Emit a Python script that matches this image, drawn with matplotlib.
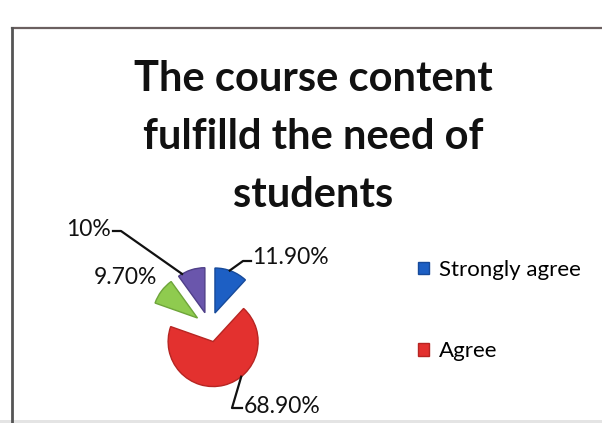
"""Exploded pie: course content survey."""

import matplotlib

matplotlib.use("Agg")
import matplotlib.pyplot as plt
import numpy as np
from matplotlib.patches import Rectangle

W, H = 602, 423

categories = ["Strongly agree", "Agree", "Neutral", "Disagree"]
shares = [11.9, 68.9, 9.7, 10.0]
value_labels = ["11.90%", "68.90%", "9.70%", "10%"]
colors = ["#1d5fc4", "#e3312f", "#8fcb4f", "#6a56ac"]
edges = ["#174a9a", "#b72522", "#6ea53a", "#4f3f88"]

plt.rcParams["font.family"] = ["Lato", "DejaVu Sans"]

fig = plt.figure(figsize=(W / 100, H / 100), dpi=100)
ax = fig.add_axes([0, 0, 1, 1])
ax.set_xlim(0, W)
ax.set_ylim(0, H)
ax.set_aspect("equal")
ax.axis("off")

# frame of the printed chart
ax.plot([12, W], [H - 28, H - 28], color="#6b6060", lw=1.6)
ax.plot([12, 12], [H - 28, 0], color="#555", lw=2)
ax.add_patch(Rectangle((0, 0), W, 3, color="#e4e4e4", lw=0))

ax.text(313, H - 137, "The course content\nfulfilld the need of\nstudents",
        ha="center", va="center", fontsize=30, fontweight="bold",
        linespacing=1.65, color="#111")

center = (209.5, H - 327)
radius = 45
wedges, _ = ax.pie(shares, colors=colors, startangle=90, counterclock=False,
                   explode=[15] * 4, radius=radius, center=center,
                   wedgeprops=dict(linewidth=1.0))
for wd, ec in zip(wedges, edges):
    wd.set_edgecolor(ec)
ax.set_xlim(0, W)
ax.set_ylim(0, H)


def rim(wd, frac=0.5, r=1.0):
    ang = np.deg2rad(wd.theta1 + (wd.theta2 - wd.theta1) * frac)
    cx, cy = wd.center
    return cx + wd.r * r * np.cos(ang), cy + wd.r * r * np.sin(ang)


lab_kw = dict(fontsize=16.5, color="#111", va="center")

# 11.90%
x0, y0 = rim(wedges[0], 0.55)
ax.plot([x0, 243, 251], [y0, H - 261, H - 261], color="#111", lw=1.6)
ax.text(252, H - 258, value_labels[0], ha="left", **lab_kw)

# 68.90%
x0, y0 = rim(wedges[1], 0.6)
ax.plot([x0, 232, 242], [y0, H - 408, H - 408], color="#111", lw=1.6)
ax.text(244, H - 406, value_labels[1], ha="left", **lab_kw)

# 9.70%
ax.text(125, H - 277, value_labels[2], ha="center", **lab_kw)

# 10%
x0, y0 = rim(wedges[3], 0.85)
ax.plot([x0, 121, 113], [y0, H - 231, H - 231], color="#111", lw=1.6)
ax.text(111, H - 229, value_labels[3], ha="right", **lab_kw)

leg = ax.legend(wedges[:2], categories[:2], loc="upper left",
                bbox_to_anchor=(398 / W, 1 - 240 / H), frameon=False,
                fontsize=16, handlelength=0.5, handleheight=0.5,
                handletextpad=0.45, labelspacing=2.75)

fig.savefig("out.png", dpi=100)
